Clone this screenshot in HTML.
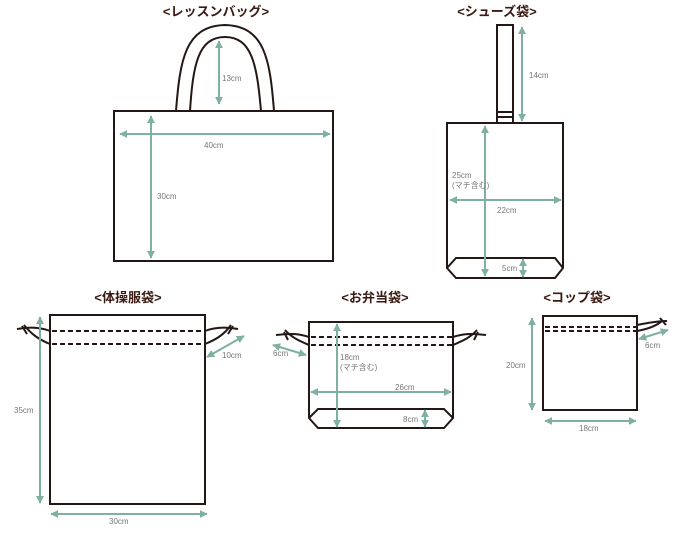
<!DOCTYPE html>
<html><head><meta charset="utf-8"><style>
html,body{margin:0;padding:0;background:#fff;}
svg{display:block}
.t{font-family:"Liberation Sans","Noto Sans CJK JP",sans-serif;font-weight:bold;font-size:13px;fill:#3a1a12;text-anchor:middle}
.l{font-family:"Liberation Sans","Noto Sans CJK JP",sans-serif;font-size:8px;fill:#777}
.k{stroke:#231815;stroke-width:2;fill:none}
.d{stroke:#231815;stroke-width:2;stroke-dasharray:5,3;fill:none}
.a{stroke:#7fb0a3;stroke-width:2;fill:none;marker-start:url(#m);marker-end:url(#m)}
</style></head><body>
<svg width="700" height="536" viewBox="0 0 700 536">
<defs><marker id="m" viewBox="0 0 10 10" refX="9" refY="5" markerWidth="4" markerHeight="4" orient="auto-start-reverse"><path d="M0,0L10,5L0,10z" fill="#7fb0a3"/></marker></defs>

<!-- Lesson bag -->
<text class="t" x="216" y="16">&lt;レッスンバッグ&gt;</text>
<path class="k" d="M176,111 C180,60 185,26 225,25 C265,26 270,60 274,111"/>
<path class="k" d="M190,111 C193,65 198,37 225,37 C252,37 257,65 261,111"/>
<rect class="k" x="114" y="111" width="219" height="150" fill="#fff"/>
<line class="a" x1="219" y1="41" x2="219" y2="104"/>
<text class="l" x="222" y="81">13cm</text>
<line class="a" x1="120" y1="134" x2="330" y2="134"/>
<text class="l" x="204" y="148">40cm</text>
<line class="a" x1="151" y1="116" x2="151" y2="258"/>
<text class="l" x="157" y="199">30cm</text>

<!-- Shoes bag -->
<text class="t" x="497" y="16">&lt;シューズ袋&gt;</text>
<rect class="k" x="497" y="25" width="16" height="98"/>
<line class="k" x1="497" y1="112" x2="513" y2="112"/>
<line class="k" x1="497" y1="117" x2="513" y2="117"/>
<path class="k" d="M447,123 L563,123 L563,268 L555,278 L456,278 L447,268 Z"/>
<path class="k" d="M447,268 L456,258 L555,258 L563,268"/>
<line class="a" x1="522" y1="27" x2="522" y2="121"/>
<text class="l" x="529" y="78">14cm</text>
<line class="a" x1="485" y1="126" x2="485" y2="276"/>
<text class="l" x="452" y="178">25cm</text>
<text class="l" x="452" y="188">(マチ含む)</text>
<line class="a" x1="450" y1="200" x2="561" y2="200"/>
<text class="l" x="497" y="213">22cm</text>
<line class="a" x1="523" y1="259" x2="523" y2="277"/>
<text class="l" x="502" y="271">5cm</text>

<!-- Taiso -->
<text class="t" x="128" y="302">&lt;体操服袋&gt;</text>
<rect class="k" x="50" y="315" width="155" height="189"/>
<line class="d" x1="52" y1="331" x2="204" y2="331"/>
<line class="d" x1="52" y1="344" x2="204" y2="344"/>
<path class="k" d="M50,331 C40,327 28,327 17,329 M50,344 C40,340 32,335 24,325 M22,326 L27,334"/>
<path class="k" d="M205,331 C215,327 227,327 238,329 M205,344 C215,340 224,335 231,325 M233,326 L228,334"/>
<line class="a" x1="40" y1="317" x2="40" y2="503"/>
<text class="l" x="14" y="413">35cm</text>
<line class="a" x1="51" y1="514" x2="207" y2="514"/>
<text class="l" x="109" y="524">30cm</text>
<line class="a" x1="207" y1="357" x2="244" y2="336"/>
<text class="l" x="222" y="358">10cm</text>

<!-- Obento -->
<text class="t" x="375" y="302">&lt;お弁当袋&gt;</text>
<path class="k" d="M309,322 L453,322 L453,418 L444,428 L318,428 L309,418 Z"/>
<path class="k" d="M309,418 L318,409 L444,409 L453,418"/>
<line class="d" x1="311" y1="337" x2="452" y2="337"/>
<line class="d" x1="311" y1="345" x2="452" y2="345"/>
<path class="k" d="M309,337 C300,334 293,333 276,335 M309,345 C300,341 292,338 285,330 M284,332 L288,340"/>
<path class="k" d="M453,337 C462,334 470,333 486,335 M453,345 C462,341 470,338 477,330 M478,332 L474,340"/>
<line class="a" x1="337" y1="324" x2="337" y2="427"/>
<text class="l" x="340" y="360">18cm</text>
<text class="l" x="340" y="370">(マチ含む)</text>
<line class="a" x1="311" y1="392" x2="451" y2="392"/>
<text class="l" x="395" y="390">26cm</text>
<line class="a" x1="425" y1="410" x2="425" y2="427"/>
<text class="l" x="403" y="422">8cm</text>
<line class="a" x1="273" y1="345" x2="306" y2="355"/>
<text class="l" x="273" y="356">6cm</text>

<!-- Cup -->
<text class="t" x="577" y="302">&lt;コップ袋&gt;</text>
<rect class="k" x="543" y="316" width="94" height="94"/>
<line class="d" x1="545" y1="327" x2="636" y2="327"/>
<line class="d" x1="545" y1="331" x2="636" y2="331"/>
<path class="k" d="M637,325 C648,323 656,321 667,321 M637,331 C648,329 657,326 663,320 M660,318 L666,325"/>
<line class="a" x1="532" y1="318" x2="532" y2="410"/>
<text class="l" x="506" y="368">20cm</text>
<line class="a" x1="545" y1="421" x2="636" y2="421"/>
<text class="l" x="579" y="431">18cm</text>
<line class="a" x1="639" y1="339" x2="668" y2="330"/>
<text class="l" x="645" y="348">6cm</text>
</svg>
</body></html>
